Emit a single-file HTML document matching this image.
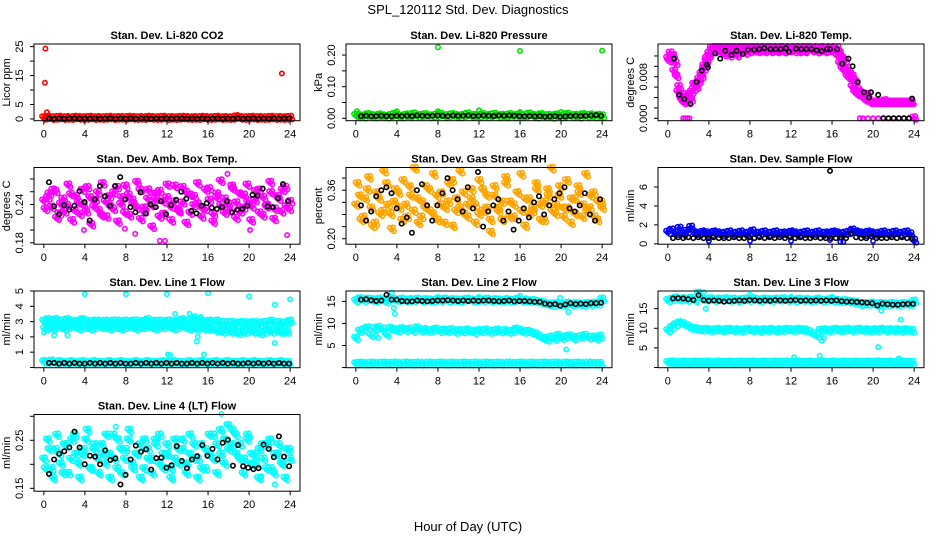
<!DOCTYPE html>
<html><head><meta charset="utf-8"><style>
html,body{margin:0;padding:0;background:#fff;}
svg text{font-family:"Liberation Sans",sans-serif;}
</style></head>
<body>
<svg id="fig" xmlns="http://www.w3.org/2000/svg" width="936" height="540" viewBox="0 0 936 540">
<rect x="0" y="0" width="936" height="540" fill="#fff"/>
<text x="468" y="14" font-size="13" text-anchor="middle">SPL_120112  Std. Dev. Diagnostics</text>
<text x="468" y="531" font-size="13" text-anchor="middle">Hour of Day (UTC)</text>
</svg>
<script>
// ---- data ----
const xTicks=[0,4,8,12,16,20,24];
const co2Red=[0.3,0.5,0.2,0.3,0.4,0.2,0.3,0.2,0.4,0.3,0.2,0.3,0.4,0.2,0.3,0.2,0.3,0.4,0.2,0.3,0.3,0.2,0.4,0.3,0.2,0.3,0.2,0.4,0.3,0.2,0.3,0.4,0.2,0.3,0.2,0.3,0.4,0.3,0.2,0.3,0.2,0.4,0.3,0.2,0.3,0.4,0.2,0.3,0.2,0.3,0.6,0.3,0.2,0.3,0.4,0.2,0.3,0.2,0.3,0.4,0.2,0.3,0.2,0.3,0.4];
const co2OutX=[0.1,0.15,0.3,0.05,18.8,23.2];
const co2OutY=[12.5,24.3,2.3,0.6,1.2,15.7];
const co2Black=[0.2,0.1,0.2,0.1,0.2,0.2,0.1,0.2,0.1,0.2,0.1,0.2,0.2,0.1,0.2,0.1,0.2,0.1,0.2,0.2,0.1,0.2,0.1,0.2,0.1,0.2,0.2,0.1,0.2,0.1,0.2,0.1,0.2,0.2,0.1,0.2,0.1,0.2,0.1,0.2,0.2,0.1,0.2,0.1,0.2,0.1,0.2,0.2];

const presGreen=[.008,.006,.004,.010,.007,.005,.009,.006,.004,.008,.011,.006,.005,.009,.007,.012,.006,.008,.010,.005,.007,.009,.011,.006,.008,.010,.007,.005,.009,.012,.006,.008,.007,.010,.005,.009,.011,.006,.008,.007,.010,.005,.009,.006,.008,.012,.007,.004,.010,.006,.008,.003,.009,.005,.007,.011,.006,.008,.004,.010,.007,.009,.005,.008,.006];
const presOutX=[0.1,4,8,12,16,20,8,16,24];
const presOutY=[.022,.022,.022,.025,.020,.020,.225,.213,.214];
const presBlack=[.007,.008,.006,.007,.008,.007,.006,.008,.007,.008,.007,.009,.008,.007,.008,.009,.008,.007,.009,.008,.008,.009,.007,.008,.009,.008,.007,.009,.008,.009,.008,.007,.006,.007,.006,.007,.005,.006,.007,.005,.006,.007,.008,.007,.008,.009,.010,.008];

const tempMagA=[.0115,.0125,.0120,.0105,.0050,.0040,.0030,.0040,.0030,.0035,.0055,.0065,.0070,.0085,.0095,.0110,.0120,.0130,.0135,.0130,.0135,.0128,.0135,.0130,.0120,.0135,.0130,.0135,.0130,.0135,.0125,.0135,.0135,.0130,.0135,.0128,.0135,.0130,.0135,.0135,.0128,.0135,.0130,.0135,.0135,.0128,.0135,.0130,.0135,.0132,.0135,.0128,.0135,.0130,.0135,.0133,.0130,.0135,.0128,.0135,.0135,.0130,.0135,.0132,.0135,.0130,.0135,.0125,.0115,.0110,.0095,.0085,.0080,.0070,.0055,.0045,.0040,.0045,.0035,.0030,.0030,.0030,.0030,.0030,.0030,.0030,.0030,.0030,.0030,.0030,.0030,.0030,.0030,.0030,.0030,.0030,.0000];
const tempMagB=[.0110,.0118,.0090,.0080,.0060,.0035,.0030,.0045,.0040,.0050,.0065,.0060,.0075,.0080,.0100,.0115,.0125,.0135,.0128,.0135,.0130,.0135,.0122,.0135,.0135,.0128,.0135,.0120,.0135,.0130,.0135,.0130,.0128,.0135,.0130,.0135,.0130,.0135,.0128,.0135,.0135,.0130,.0135,.0128,.0130,.0135,.0128,.0135,.0130,.0135,.0128,.0135,.0130,.0135,.0128,.0135,.0135,.0130,.0135,.0128,.0130,.0135,.0128,.0135,.0130,.0135,.0130,.0120,.0105,.0095,.0090,.0080,.0075,.0060,.0050,.0045,.0050,.0040,.0035,.0045,.0030,.0030,.0030,.0030,.0030,.0030,.0033,.0030,.0030,.0030,.0030,.0030,.0030,.0030,.0030,.0030,.0030];
const tempZeroX=[1.5,1.7,1.9,2.1,18.7,19,19.5,20,20.5,21,21.5,22,22.5,23,23.5,24];
const tempZeroY=[0,0,0,0,0,0,0,0,0,0,0,0,0,0,0,0];
const tempBlackX=[0.6,1.1,1.6,2.2,2.8,3.3,3.8,3.9,4.6,5.1,5.6,6.2,6.7,7.3,7.8,8.4,8.9,9.4,10,10.5,11,11.5,11.8,12.5,13,13.5,14,14.5,15,15.5,15.8,16.5,17,17.6,18,18.5,19.1,19.6,19.8,20.5,21,21.5,22,22.5,23,23.5,23.8];
const tempBlackY=[.0115,.0045,.0037,.0028,.0070,.0092,.0103,.0098,.0125,.0115,.0130,.0122,.0130,.0124,.0132,.0132,.0133,.0135,.0133,.0133,.0133,.0135,.0128,.0134,.0133,.0133,.0133,.0131,.0129,.0133,.0133,.0133,.0105,.0115,.0100,.0070,.0050,.0040,.0050,.0045,0,0,0,0,0,0,.0038];

const ambMagA=[.245,.250,.235,.260,.225,.248,.238,.255,.230,.242,.262,.228,.250,.236,.258,.222,.244,.252,.232,.266,.240,.226,.254,.246,.234,.262,.228,.248,.238,.256,.220,.244,.250,.236,.268,.230,.242,.258,.226,.252,.240,.234,.262,.246,.224,.256,.238,.248,.230,.264,.242,.228,.254,.244,.236,.260,.226,.250,.238,.258,.232,.248,.262,.236,.244];
const ambMagB=[.232,.256,.262,.218,.240,.228,.270,.214,.252,.224,.238,.266,.208,.246,.230,.272,.220,.236,.258,.212,.250,.268,.222,.240,.274,.216,.234,.262,.204,.248,.260,.224,.270,.214,.244,.228,.266,.210,.254,.238,.272,.220,.232,.264,.212,.250,.276,.226,.240,.268,.218,.256,.234,.270,.214,.246,.262,.222,.236,.274,.216,.252,.228,.266,.232];
const ambOutX=[11.3,11.8,8.9,23.7,17.9,20.1,3.9,7.9];
const ambOutY=[.183,.183,.194,.192,.288,.200,.200,.202];
const ambBlack=[.275,.237,.225,.239,.232,.238,.261,.244,.215,.248,.269,.253,.238,.269,.283,.248,.236,.228,.259,.226,.240,.236,.245,.225,.239,.247,.260,.249,.230,.226,.238,.242,.235,.233,.236,.245,.228,.232,.233,.238,.255,.254,.265,.237,.236,.250,.272,.245];

const rhOrA=[.31,.34,.27,.36,.30,.25,.33,.29,.38,.28,.32,.35,.26,.31,.37,.29,.33,.27,.30,.36,.28,.34,.31,.25,.32,.39,.29,.30,.35,.27,.33,.31,.28,.36,.30,.26,.34,.29,.32,.38,.27,.31,.35,.29,.33,.28,.30,.36,.26,.32,.34,.29,.31,.37,.27,.30,.33,.28,.35,.31,.29,.34,.27,.32,.30];
const rhOrB=[.38,.26,.33,.40,.24,.35,.28,.42,.31,.23,.36,.30,.39,.27,.34,.43,.25,.32,.37,.29,.41,.26,.35,.30,.38,.24,.33,.42,.28,.31,.36,.25,.39,.29,.34,.22,.37,.30,.26,.40,.32,.27,.35,.41,.24,.33,.29,.38,.31,.26,.36,.43,.28,.34,.30,.39,.25,.33,.37,.27,.41,.30,.35,.26,.32];
const rhBlack=[.31,.26,.29,.34,.36,.37,.35,.30,.25,.27,.22,.36,.38,.31,.26,.31,.35,.40,.36,.33,.29,.37,.30,.42,.24,.29,.31,.33,.26,.29,.23,.26,.30,.27,.32,.34,.28,.31,.33,.35,.37,.30,.29,.31,.35,.28,.26,.33];

const sfBlue=[1.2,1.4,1.1,1.6,1.0,1.3,1.7,1.1,1.0,1.2,1.1,1.0,1.2,1.1,1.0,1.1,1.2,1.0,1.1,1.2,1.0,1.1,1.3,1.0,1.1,1.2,1.0,1.1,1.2,1.0,1.1,1.0,1.2,1.1,1.0,1.1,1.2,1.0,1.1,1.2,1.0,1.1,1.0,1.2,1.1,1.0,1.1,1.2,1.4,1.2,1.1,1.0,1.2,1.1,1.0,1.1,1.2,1.0,1.1,1.2,1.0,1.1,1.2,1.0,0.3];
const sfOutX=[4,8,12,15.8,16.8,17.1,20];
const sfOutY=[0.3,0.3,0.3,0.4,0.2,0.2,0.3];
const sfBlack=[0.6,0.7,0.6,0.7,0.6,0.7,0.6,0.6,0.7,0.6,0.6,0.6,0.7,0.6,0.6,0.7,0.6,0.7,0.6,0.7,0.6,0.7,0.6,0.7,0.6,0.7,0.6,0.6,0.7,0.6,0.6,0.6,0.6,0.7,0.6,1.1,0.7,0.6,0.6,0.8,0.6,0.6,0.6,0.7,0.6,0.7,0.6,0.6];
const sfBlackOutX=[15.8];
const sfBlackOutY=[7.7];

const l1Upper=[3.0,3.1,3.0,3.1,3.0,3.0,3.1,3.0,2.9,3.0,3.1,3.0,2.9,3.0,3.0,2.9,3.0,2.9,3.0,3.0,2.9,3.0,2.9,3.0,3.0,2.9,3.0,3.1,2.9,3.0,3.0,2.9,3.0,3.0,2.9,3.0,3.1,3.0,3.0,3.2,3.1,3.0,2.9,3.0,2.9,3.0,2.9,2.9,2.9,2.9,2.8,2.9,2.9,2.8,2.9,2.9,2.8,2.9,2.9,3.0,2.9,2.9,2.8,2.9,3.0];
const l1Lower=[2.5,2.6,2.5,2.7,2.6,2.5,2.6,2.7,2.6,2.5,2.6,2.6,2.5,2.6,2.7,2.6,2.6,2.5,2.6,2.6,2.5,2.6,2.7,2.6,2.5,2.6,2.6,2.7,2.6,2.5,2.6,2.6,2.7,2.6,2.5,2.6,2.7,2.6,2.5,2.6,2.5,2.6,2.5,2.5,2.5,2.4,2.4,2.3,2.4,2.3,2.3,2.2,2.3,2.3,2.4,2.3,2.3,2.2,2.3,2.4,2.3,2.4,2.3,2.3,2.3];
const l1Bottom=[0.35,0.3,0.4,0.3,0.35,0.3,0.3,0.35,0.3,0.3,0.35,0.3,0.3,0.35,0.3,0.3,0.3,0.35,0.3,0.3,0.35,0.3,0.3,0.3,0.35,0.3,0.3,0.35,0.3,0.3,0.3,0.35,0.3,0.3,0.35,0.3,0.3,0.3,0.35,0.3,0.3,0.35,0.3,0.3,0.3,0.35,0.3,0.3,0.35,0.3,0.3,0.3,0.35,0.3,0.3,0.35,0.3,0.3,0.3,0.35,0.3,0.3,0.35,0.3,0.3];
const l1OutX=[4,8,12,16,20,22.5,24,12.1,12.3,15.6,12.8,14.2,14.4,14.9,15,22.5,0,1,2.3,15.3];
const l1OutY=[4.8,4.8,4.8,4.85,4.65,4.1,4.45,0.85,0.8,0.85,3.5,3.5,3.3,1.7,2.0,1.6,2.3,2.1,2.1,3.3];
const l1Black=[0.3,0.3,0.25,0.3,0.25,0.3,0.25,0.25,0.3,0.25,0.3,0.25,0.3,0.25,0.3,0.25,0.25,0.3,0.25,0.3,0.25,0.3,0.25,0.3,0.25,0.3,0.25,0.25,0.3,0.25,0.3,0.25,0.3,0.25,0.3,0.25,0.3,0.25,0.25,0.3,0.25,0.3,0.25,0.3,0.25,0.3,0.25,0.25];

const l2Top=[15.1,15.5,15.2,15.4,15.3,15.1,15.4,15.2,14.9,15.6,15.3,15.2,15.4,15.1,15.3,15.2,15.4,15.1,15.3,15.2,15.0,15.3,15.2,15.4,15.1,15.3,15.2,15.1,15.3,15.4,15.2,15.1,15.3,15.2,15.4,15.1,15.3,15.2,15.0,15.3,15.1,15.2,15.4,15.1,15.2,15.0,15.1,14.9,14.7,14.5,14.3,14.1,14.4,14.2,14.3,14.5,14.2,14.4,14.3,14.2,14.4,14.3,14.5,14.4,15.4];
const l2Mid=[6.6,8.2,8.5,8.9,7.2,8.8,9.0,8.6,7.4,8.8,8.5,8.3,8.7,8.4,8.6,8.2,8.9,8.3,8.5,8.2,8.4,8.6,8.1,8.4,8.2,8.5,8.0,8.3,8.1,8.4,8.2,7.9,8.3,8.1,8.4,8.0,8.2,8.4,8.1,8.3,8.0,8.2,8.6,8.3,8.0,8.1,7.8,7.5,7.0,6.5,6.2,6.8,6.4,7.2,6.6,6.9,7.1,6.5,6.8,6.9,7.2,6.7,6.8,6.5,7.0];
const l2Bot=[0.8,0.9,0.8,0.8,0.9,0.8,0.8,0.9,0.8,0.8,0.9,0.8,0.8,0.9,0.8,0.8,0.9,0.8,0.8,0.9,0.8,0.8,0.9,0.8,0.8,0.9,0.8,0.8,0.9,0.8,0.8,0.9,0.8,0.8,0.9,0.8,0.8,0.9,0.8,0.8,0.9,0.8,0.8,0.9,0.8,0.8,0.9,0.8,0.8,0.9,0.8,0.8,0.9,0.8,0.8,0.9,0.8,0.8,0.9,0.8,0.8,0.9,0.8,0.8,0.8];
const l2OutX=[3.5,3.7,3.8,20.5,20.7,16,19.9,0,2.2,1.9,8,12];
const l2OutY=[17.0,13.5,12.2,4.1,12.6,16.3,15.8,6.6,6.7,7.3,16.0,16.0];
const l2Black=[15.4,15.5,15.3,15.1,15.2,16.5,15.4,15.4,15.1,15.0,15.0,15.2,15.1,15.0,15.1,15.2,15.2,15.3,15.2,15.1,15.2,15.1,15.2,15.1,15.2,15.2,15.1,15.0,15.1,15.2,15.0,15.1,15.1,15.0,14.9,14.9,14.5,14.3,14.4,14.0,14.3,14.6,14.4,14.5,14.4,14.6,14.6,14.7];

const l3Top=[17.0,17.3,17.6,17.2,17.4,17.1,17.5,17.0,18.8,17.3,17.2,17.4,17.1,17.3,17.2,17.4,17.1,17.3,17.0,17.2,17.3,17.1,17.4,17.2,17.0,17.3,17.2,17.1,17.3,17.2,17.4,17.1,17.2,17.0,17.3,17.1,17.2,17.0,17.1,17.3,17.0,17.1,17.2,16.9,17.0,16.8,16.9,16.7,16.6,16.4,16.0,16.2,16.1,16.3,16.0,16.2,16.1,16.0,16.2,16.1,16.0,16.2,16.1,16.0,16.8];
const l3Mid=[9.3,10.2,10.8,11.3,11.0,10.5,10.0,9.8,9.6,9.5,9.6,9.4,9.5,9.6,9.4,9.5,9.6,9.4,9.5,9.3,9.5,9.6,9.4,9.5,9.2,9.5,9.4,9.6,9.3,9.5,9.4,9.6,9.5,9.4,9.6,9.5,9.4,9.0,8.5,8.0,9.4,9.5,9.3,9.5,9.6,9.4,9.5,9.6,9.4,9.5,9.6,9.4,9.5,9.3,9.5,9.4,9.6,9.3,9.5,9.4,9.5,9.3,9.5,9.4,9.3];
const l3Bot=[1.2,1.3,1.2,1.2,1.3,1.2,1.2,1.3,1.2,1.2,1.3,1.2,1.2,1.3,1.2,1.2,1.3,1.2,1.2,1.3,1.2,1.2,1.3,1.2,1.2,1.3,1.2,1.2,1.3,1.2,1.2,1.3,1.2,1.2,1.3,1.2,1.2,1.3,1.2,1.2,1.3,1.2,1.2,1.3,1.2,1.2,1.3,1.2,1.2,1.3,1.2,1.2,1.3,1.2,1.2,1.3,1.2,1.2,1.3,1.2,1.2,1.3,1.2,1.2,1.2];
const l3OutX=[3.7,8,12,16,20.5,15,14.8,12.3,22.5,22.7,20.8,15.2,3.5];
const l3OutY=[15.0,18.5,18.0,18.0,5.2,6.8,3.0,2.6,2.3,12.2,14.5,7.5,19.2];
const l3Black=[17.6,17.7,17.6,17.4,17.2,18.4,17.2,17.0,17.1,17.0,16.8,16.9,17.0,17.1,17.0,17.2,17.1,17.0,17.1,17.0,17.2,17.1,17.0,17.1,17.2,17.0,17.1,17.0,17.1,17.0,17.1,17.0,17.1,16.9,16.8,16.8,16.7,16.6,16.5,16.4,15.8,16.3,16.1,16.0,16.0,16.1,16.2,16.2];

const l4CyA=[.21,.25,.19,.23,.22,.18,.24,.21,.26,.20,.22,.25,.19,.23,.21,.24,.20,.22,.26,.19,.23,.21,.25,.20,.22,.24,.19,.23,.21,.25,.20,.22,.24,.19,.21,.23,.25,.20,.22,.24,.21,.19,.23,.26,.21,.24,.22,.25,.23,.27,.22,.24,.21,.26,.22,.20,.23,.21,.24,.19,.22,.24,.20,.23,.21];
const l4CyB=[.19,.23,.17,.26,.20,.24,.18,.25,.22,.17,.23,.27,.19,.24,.18,.22,.26,.17,.21,.25,.18,.23,.27,.19,.22,.17,.25,.21,.18,.24,.26,.19,.22,.17,.25,.20,.23,.18,.26,.21,.17,.24,.19,.22,.26,.18,.27,.20,.28,.24,.26,.21,.18,.25,.20,.22,.17,.24,.19,.25,.18,.22,.20,.17,.23];
const l4OutX=[17.3,22.5,7,21.1,21.2];
const l4OutY=[.305,.158,.278,.173,.175];
const l4Black=[.180,.210,.222,.227,.235,.268,.235,.200,.218,.216,.200,.229,.209,.212,.158,.178,.210,.239,.226,.231,.189,.213,.214,.193,.198,.238,.207,.192,.210,.217,.240,.218,.232,.210,.245,.251,.197,.240,.196,.193,.190,.192,.241,.232,.215,.258,.216,.196];

// ---- layout ----
const NS="http://www.w3.org/2000/svg";
const fig=document.getElementById('fig');
function el(tag,attrs,parent){const e=document.createElementNS(NS,tag);for(const k in attrs)e.setAttribute(k,attrs[k]);(parent||fig).appendChild(e);return e;}
const uni=(vals,t0,t1)=>vals.map((v,i)=>[t0+i*(t1-t0)/(vals.length-1),v]);
const pts=(xs,ys)=>xs.map((x,i)=>[x,ys[i]]);
const CY="#00ffff",BK="#000";
// dense clouds are drawn with small pixel smear to mimic overplotting
const SMEAR=[[0,0],[2.2,1.6],[-1.8,-1.8],[1.2,-2.2]];
const panels=[
 {id:'co2',title:'Stan. Dev. Li-820 CO2',ylab:'Licor ppm',y0:-0.6,y1:25.9,ticks:[0,5,10,15,20,25],labels:['0','5','','15','','25'],
  series:[[uni(co2Red,0,24),'#ff0000',1],[pts(co2OutX,co2OutY),'#ff0000',0],[uni(co2Black,0.5,23.9),BK,0]]},
 {id:'pressure',title:'Stan. Dev. Li-820 Pressure',ylab:'kPa',y0:-0.0076,y1:0.235,ticks:[0,0.05,0.1,0.15,0.2],labels:['0.00','','0.10','','0.20'],
  series:[[uni(presGreen,0,24),'#00e000',1],[pts(presOutX,presOutY),'#00e000',0],[uni(presBlack,0.5,23.9),BK,0]]},
 {id:'li820-temp',title:'Stan. Dev. Li-820 Temp.',ylab:'degrees C',y0:-0.00046,y1:0.0143,ticks:[0,0.002,0.004,0.006,0.008,0.010,0.012],labels:['0.000','','','','0.008','',''],
  series:[[uni(tempMagA,0,24),'#ff00ff',1],[uni(tempMagB,0.1,23.6),'#ff00ff',1],[pts(tempZeroX,tempZeroY),'#ff00ff',0],[pts(tempBlackX,tempBlackY),BK,0]]},
 {id:'amb-box-temp',title:'Stan. Dev. Amb. Box Temp.',ylab:'degrees C',y0:0.1778,y1:0.298,ticks:[0.18,0.2,0.22,0.24,0.26,0.28],labels:['0.18','','','0.24','',''],
  series:[[uni(ambMagA,0,24),'#ff00ff',1],[uni(ambMagB,0.15,23.9),'#ff00ff',1],[pts(ambOutX,ambOutY),'#ff00ff',0],[uni(ambBlack,0.5,23.8),BK,0]]},
 {id:'gas-stream-rh',title:'Stan. Dev. Gas Stream RH',ylab:'percent',y0:0.182,y1:0.435,ticks:[0.2,0.24,0.28,0.32,0.36,0.4],labels:['0.20','','','','0.36',''],
  series:[[uni(rhOrA,0,24),'#ffa500',1],[uni(rhOrB,0.15,23.9),'#ffa500',1],[uni(rhBlack,0.5,23.8),BK,0]]},
 {id:'sample-flow',title:'Stan. Dev. Sample Flow',ylab:'ml/min',y0:-0.04,y1:8.06,ticks:[0,2,4,6],labels:['0','2','4','6'],
  series:[[uni(sfBlue,0,24),'#0000ff',1],[pts(sfOutX,sfOutY),'#0000ff',0],[uni(sfBlack,0.5,23.8),BK,0],[pts(sfBlackOutX,sfBlackOutY),BK,0]]},
 {id:'line1-flow',title:'Stan. Dev. Line 1 Flow',ylab:'ml/min',y0:-0.015,y1:5.0,ticks:[0,1,2,3,4,5],labels:['','1','2','3','4','5'],
  series:[[uni(l1Upper,0,24),CY,1],[uni(l1Lower,0.1,23.7),CY,1],[uni(l1Bottom,0,23.8),CY,1],[pts(l1OutX,l1OutY),CY,0],[uni(l1Black,0.5,23.9),BK,0]]},
 {id:'line2-flow',title:'Stan. Dev. Line 2 Flow',ylab:'ml/min',y0:-0.03,y1:17.36,ticks:[0,5,10,15],labels:['','5','10','15'],
  series:[[uni(l2Top,0,24),CY,1],[uni(l2Mid,0,23.8),CY,1],[uni(l2Bot,0,23.8),CY,1],[pts(l2OutX,l2OutY),CY,0],[uni(l2Black,0.5,23.9),BK,0]]},
 {id:'line3-flow',title:'Stan. Dev. Line 3 Flow',ylab:'ml/min',y0:-0.05,y1:19.5,ticks:[0,5,10,15],labels:['','5','10','15'],
  series:[[uni(l3Top,0,24),CY,1],[uni(l3Mid,0,23.8),CY,1],[uni(l3Bot,0,23.8),CY,1],[pts(l3OutX,l3OutY),CY,0],[uni(l3Black,0.5,23.9),BK,0]]},
 {id:'line4-flow',title:'Stan. Dev. Line 4 (LT) Flow',ylab:'ml/min',y0:0.144,y1:0.3037,ticks:[0.15,0.2,0.25,0.3],labels:['0.15','','0.25',''],
  series:[[uni(l4CyA,0,24),CY,1],[uni(l4CyB,0.15,23.9),CY,1],[pts(l4OutX,l4OutY),CY,0],[uni(l4Black,0.5,23.9),BK,0]]}
];
const X0=-0.96,X1=24.96,W=266,H=76.7;
panels.forEach((p,i)=>{
  const L=34+312*(i%3), T=44+123.5*Math.floor(i/3), B=T+H;
  const g=el('g',{});
  
  
  const sx=h=>L+(h-X0)/(X1-X0)*W, sy=v=>B-(v-p.y0)/(p.y1-p.y0)*H;
  const t=el('text',{x:L+W/2,y:T-5,'font-size':11,'font-weight':'bold','text-anchor':'middle'},g);
  t.textContent=p.title;
  
  
  const pg=el('g',{fill:'none','stroke-width':1.6},g);
  
  
  p.series.forEach(([arr,col,dense])=>{
    const offs=dense?SMEAR:[[0,0]];
    offs.forEach(([dx,dy])=>{
      arr.forEach(([h,v])=>{
        const c=el('circle',{cx:(sx(h)+dx).toFixed(1),cy:(sy(v)+dy).toFixed(1),r:2.2,stroke:col},pg);
        
        
      });
    });
  });
  const fr=el('rect',{x:L,y:T,width:W,height:H,fill:'none',stroke:'#000','stroke-width':1},g);
  
  
  const xa=el('g',{},g);
  
  
  xTicks.forEach(h=>{
    el('line',{x1:sx(h),x2:sx(h),y1:B,y2:B+4,stroke:'#000'},xa);
    const tl=el('text',{x:sx(h),y:B+17,'font-size':11,'text-anchor':'middle'},xa);
    tl.textContent=h;
    
    
  });
  const ya=el('g',{},g);
  
  
  p.ticks.forEach((v,k)=>{
    const y=sy(v);
    el('line',{x1:L-4,x2:L,y1:y,y2:y,stroke:'#000'},ya);
    if(p.labels[k]){
      const tl=el('text',{x:L-11,y:y,'font-size':11,'text-anchor':'middle',transform:`rotate(-90 ${L-11} ${y})`},ya);
      tl.textContent=p.labels[k];
      
      
    }
  });
  const yl=el('text',{x:L-24,y:T+H/2,'font-size':11,'text-anchor':'middle',transform:`rotate(-90 ${L-24} ${T+H/2})`},ya);
  yl.textContent=p.ylab;
  
  
});
</script>
</body></html>
